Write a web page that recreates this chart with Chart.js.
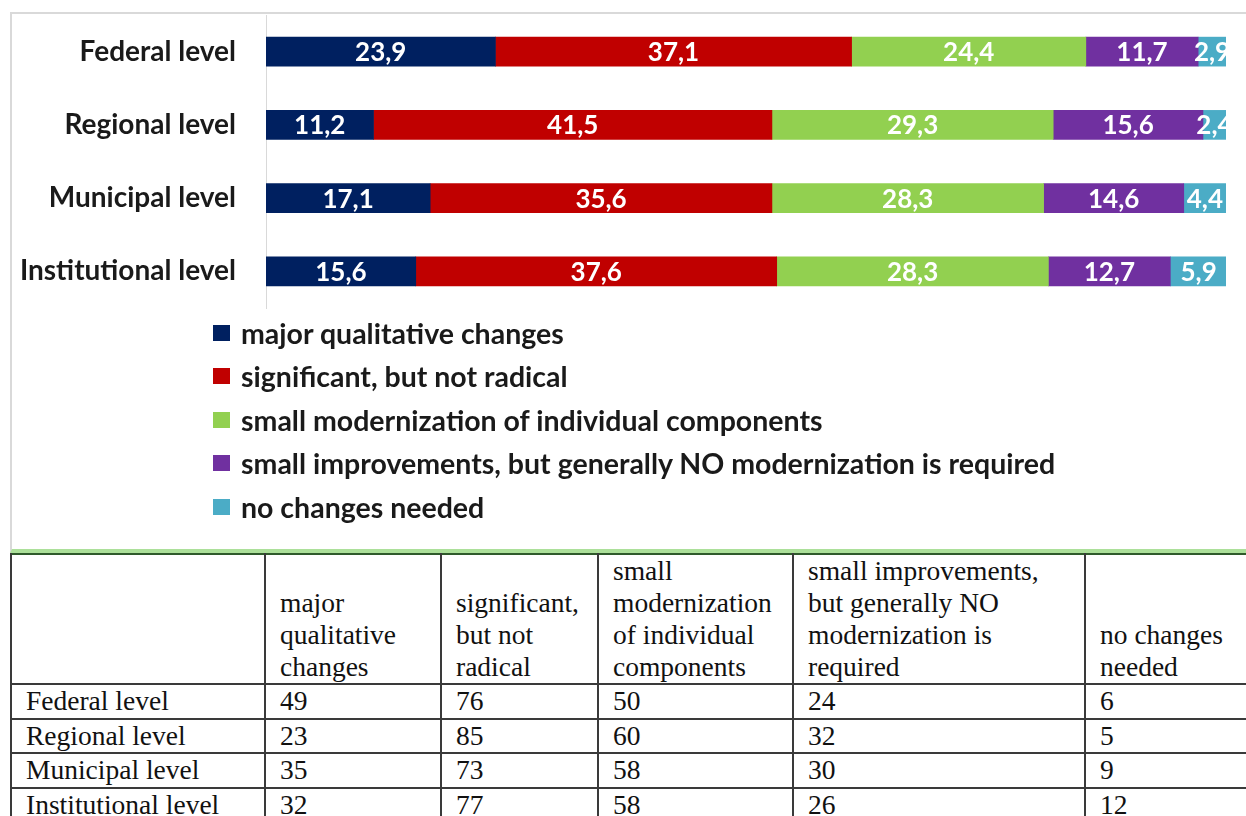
<!DOCTYPE html>
<html>
<head>
<meta charset="utf-8">
<script src="https://cdn.jsdelivr.net/npm/chart.js@4.4.1/dist/chart.umd.min.js"></script>
<style>
  html, body { margin: 0; padding: 0; background: #fff; width: 1246px; height: 816px; overflow: hidden; position: relative; }
  #box { position: absolute; left: 10px; top: 12px; width: 1250px; height: 535px;
         border-top: 2px solid #d9d9d9; border-left: 2px solid #d9d9d9; border-bottom: 4px solid #ace09a; }
  #myChart { position: absolute; left: 0; top: 0; z-index: 1; }
  #legend { position: absolute; left: 213px; top: 311px; z-index: 2; font: bold 28.5px Lato, sans-serif; color: #1a1a1a; }
  #legend div { height: 43.5px; display: flex; align-items: center; }
  #legend span.sw { display: inline-block; width: 17px; height: 16px; margin-right: 11px; }
  #tbl { position: absolute; left: 10px; top: 553px; border-collapse: collapse; table-layout: fixed;
         font: 27.5px "Liberation Serif", "Times New Roman", serif; color: #111; border-top: 2px solid #2f5a2b; }
  #tbl td { border: 2px solid #3a3a3a; padding: 0 14px 0 14px; line-height: 32.5px; vertical-align: top; white-space: normal; overflow: hidden; }
  #tbl tr.head td { line-height: 32px; vertical-align: bottom; border-top: none; }
</style>
</head>
<body>
<div id="box"></div>
<canvas id="myChart" width="1246" height="320"></canvas>
<div id="legend"></div>
<table id="tbl"></table>
<script>
// categories
const levels = ['Federal level', 'Regional level', 'Municipal level', 'Institutional level'];
const seriesNames = [
    'major qualitative changes',
    'significant, but not radical',
    'small modernization of individual components',
    'small improvements, but generally NO modernization is required',
    'no changes needed'
];
const seriesColors = ['#002060', '#c00000', '#92d050', '#7030a0', '#4bacc6'];

// percentages (bar chart)
const majorPct = [23.9, 11.2, 17.1, 15.6];
const significantPct = [37.1, 41.5, 35.6, 37.6];
const smallModPct = [24.4, 29.3, 28.3, 28.3];
const smallImpPct = [11.7, 15.6, 14.6, 12.7];
const noChangePct = [2.9, 2.4, 4.4, 5.9];

// counts (table)
const majorCnt = [49, 23, 35, 32];
const significantCnt = [76, 85, 73, 77];
const smallModCnt = [50, 60, 58, 58];
const smallImpCnt = [24, 32, 30, 26];
const noChangeCnt = [6, 5, 9, 12];

const colWidths = [254, 176, 157, 195, 292, 170];

let myChart;

// values inside bars, comma as decimal sign, clipped to the plot area
const barLabels = {
    id: 'barLabels',
    afterDatasetsDraw(chart) {
        const ctx = chart.ctx;
        const area = chart.chartArea;
        ctx.save();
        ctx.beginPath();
        ctx.rect(area.left, area.top, area.right - area.left, area.bottom - area.top);
        ctx.clip();
        ctx.font = 'bold 26px Lato';
        ctx.fillStyle = '#ffffff';
        ctx.textAlign = 'center';
        ctx.textBaseline = 'middle';
        chart.data.datasets.forEach((ds, i) => {
            chart.getDatasetMeta(i).data.forEach((bar, j) => {
                const p = bar.getCenterPoint();
                ctx.fillText(ds.data[j].toFixed(1).replace('.', ','), p.x, p.y + 1);
            });
        });
        ctx.restore();
    }
};

function generateChart() {
    const pct = [majorPct, significantPct, smallModPct, smallImpPct, noChangePct];
    const ctx = document.getElementById('myChart').getContext('2d');
    myChart = new Chart(ctx, {
        type: 'bar',
        data: {
            labels: levels,
            datasets: seriesNames.map((name, i) => ({
                label: name,
                data: pct[i],
                backgroundColor: seriesColors[i],
                borderWidth: 0,
                barThickness: 29
            }))
        },
        options: {
            indexAxis: 'y',
            responsive: false,
            animation: false,
            layout: { padding: { top: 15, bottom: 12, right: 20, left: 0 } },
            plugins: {
                legend: { display: false },
                tooltip: { enabled: false }
            },
            scales: {
                x: { stacked: true, min: 0, max: 100, display: false },
                y: {
                    stacked: true,
                    afterFit: function (scale) {
                        scale.width = 266;
                        // no extra room above/below for the tick padding
                        scale.paddingTop = 0;
                        scale.paddingBottom = 0;
                    },
                    grid: { display: true, drawOnChartArea: false, drawTicks: false },
                    border: { display: true, color: '#d9d9d9', width: 1 },
                    ticks: {
                        padding: 30,
                        color: '#1a1a1a',
                        font: { family: 'Lato', weight: 'bold', size: 28 }
                    }
                }
            }
        },
        plugins: [barLabels]
    });

    // legend as a vertical list under the bars
    const legend = document.getElementById('legend');
    myChart.data.datasets.forEach(ds => {
        const row = document.createElement('div');
        const sw = document.createElement('span');
        sw.className = 'sw';
        sw.style.background = ds.backgroundColor;
        row.appendChild(sw);
        row.appendChild(document.createTextNode(ds.label));
        legend.appendChild(row);
    });
}

function generateTable() {
    const cnt = [majorCnt, significantCnt, smallModCnt, smallImpCnt, noChangeCnt];
    const tbl = document.getElementById('tbl');
    const cg = document.createElement('colgroup');
    colWidths.forEach(w => {
        const c = document.createElement('col');
        c.style.width = w + 'px';
        cg.appendChild(c);
    });
    tbl.appendChild(cg);
    tbl.style.width = colWidths.reduce((a, b) => a + b, 0) + 'px';

    const head = tbl.insertRow();
    head.className = 'head';
    head.insertCell().textContent = '';
    seriesNames.forEach(n => { head.insertCell().textContent = n; });
    levels.forEach((lv, r) => {
        const tr = tbl.insertRow();
        tr.insertCell().textContent = lv;
        cnt.forEach(col => { tr.insertCell().textContent = col[r]; });
    });
}

document.fonts.load('bold 24px Lato').then(() => {
    generateChart();
    generateTable();
});
</script>
</body>
</html>
